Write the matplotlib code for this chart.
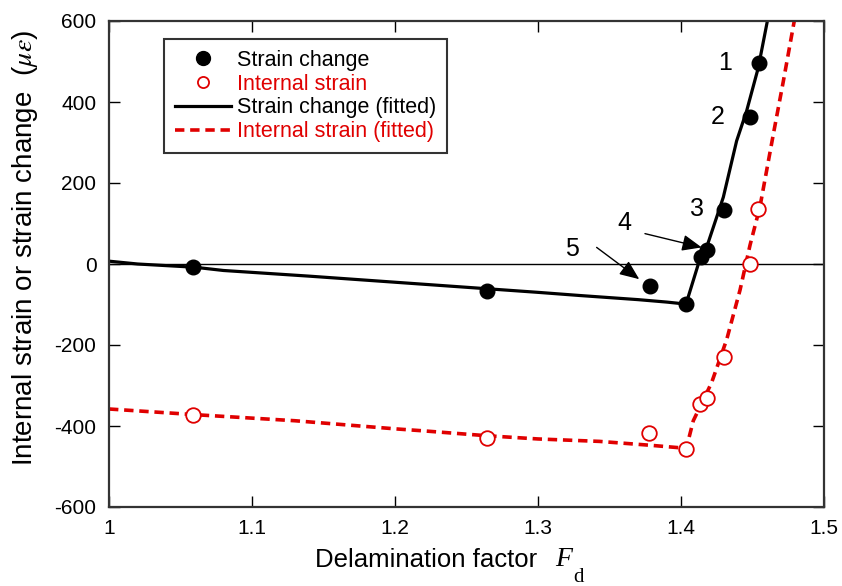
import matplotlib
matplotlib.use("Agg")
import matplotlib.pyplot as plt
from matplotlib.lines import Line2D

plt.rcParams['font.family'] = ['Liberation Sans', 'DejaVu Sans']
plt.rcParams['axes.unicode_minus'] = False
plt.rcParams['mathtext.fontset'] = 'stix'

# measured data
sc_x = [1.059, 1.264, 1.378, 1.4035, 1.4137, 1.418, 1.430, 1.4485, 1.4543]
sc_y = [-8, -66, -54, -99, 18, 34, 134, 363, 496]
is_x = [1.059, 1.264, 1.3776, 1.4033, 1.4133, 1.418, 1.430, 1.448, 1.454]
is_y = [-372, -430, -417, -458, -346, -331, -230, 0, 135]

# fitted curves
scf_x = [1.0, 1.02, 1.06, 1.08, 1.14, 1.18, 1.20, 1.26, 1.30, 1.33, 1.37, 1.39, 1.4035,
         1.4137, 1.418, 1.4296, 1.4389, 1.4459, 1.454, 1.4604]
scf_y = [7, 0, -8, -16, -30, -40, -45, -60, -70, -78, -88, -94, -99,
         18, 42, 165, 304, 378, 484, 600]
isf_x = [1.0, 1.06, 1.13, 1.20, 1.22, 1.264, 1.30, 1.343, 1.38, 1.40, 1.4035,
         1.4086, 1.4214, 1.432, 1.4413, 1.4483, 1.4552, 1.4646, 1.4716, 1.4792]
isf_y = [-358, -372, -387, -407, -412, -424, -432, -438, -448, -454, -458,
         -387, -293, -186, -64, 47, 141, 321, 452, 600]

labels = ['1', '2', '3', '4', '5']
label_x = [1.4305, 1.4254, 1.411, 1.3604, 1.3236]
label_y = [496, 363, 135, 101, 38]

xticks = [1, 1.1, 1.2, 1.3, 1.4, 1.5]
xticklabels = ['1', '1.1', '1.2', '1.3', '1.4', '1.5']
yticks = [-600, -400, -200, 0, 200, 400, 600]

RED = '#e00000'

fig = plt.figure(figsize=(8.42, 5.86), dpi=100)
ax = fig.add_axes([109/842, 1-507/586, (824-109)/842, (507-21)/586])

ax.axhline(0, color='black', lw=1.0, zorder=1)
ax.plot(scf_x, scf_y, color='black', lw=2.3, zorder=2, solid_capstyle='butt')
ax.plot(isf_x, isf_y, color=RED, lw=2.6, ls=(0, (2.6, 1.6)), zorder=2)
ax.plot(sc_x, sc_y, 'o', color='black', ms=10.5, zorder=3)
ax.plot(is_x, is_y, 'o', mfc='white', mec=RED, mew=1.3, ms=10.5, zorder=3)

for t, x, y in zip(labels, label_x, label_y):
    ax.text(x, y, t, fontsize=18, ha='center', va='center')

arrow = dict(arrowstyle='-|>,head_length=1.2,head_width=0.5', color='black', lw=1.0,
             shrinkA=0, shrinkB=0)
ax.annotate('', xy=(1.4145, 41), xytext=(1.3748, 75), arrowprops=arrow)
ax.annotate('', xy=(1.3708, -37.5), xytext=(1.341, 41), arrowprops=arrow)

ax.set_xlim(1, 1.5)
ax.set_ylim(-600, 600)
ax.set_xticks(xticks)
ax.set_xticklabels(xticklabels)
ax.set_yticks(yticks)
ax.tick_params(direction='in', length=8, width=1.0, labelsize=15, pad=9,
               top=True, right=True)
for s in ax.spines.values():
    s.set_linewidth(1.6)
    s.set_color('#333333')

fig.text(25/842, 1-248/586, r'Internal strain or strain change  ($\mu\varepsilon$)',
         fontsize=20, rotation=90, ha='center', va='center')
fig.text(426/842, 1-560/586, 'Delamination factor', fontsize=18.5, ha='center', va='center')
fig.text(564/842, 1-559/586, 'F', fontsize=20, family='Liberation Serif', style='italic',
         ha='center', va='center')
fig.text(578/842, 1-577/586, 'd', fontsize=15, family='Liberation Serif',
         ha='center', va='center')

handles = [
    Line2D([], [], ls='none', marker='o', color='black', ms=10),
    Line2D([], [], ls='none', marker='o', mfc='white', mec=RED, mew=1.3, ms=8),
    Line2D([], [], color='black', lw=2.3),
    Line2D([], [], color=RED, lw=2.6, ls=(0, (2.6, 1.6))),
]
names = ['Strain change', 'Internal strain', 'Strain change (fitted)', 'Internal strain (fitted)']
leg = ax.legend(handles, names, loc='upper left', bbox_to_anchor=(164/842, 1-39/586),
                bbox_transform=fig.transFigure, fontsize=15.5, frameon=True, fancybox=False,
                edgecolor='black', handlelength=2.6, handletextpad=0.3, labelspacing=0.13,
                borderpad=0.5, borderaxespad=0)
leg.get_frame().set_linewidth(1.5)
for txt, c in zip(leg.get_texts(), ['black', RED, 'black', RED]):
    txt.set_color(c)

fig.savefig('out.png', dpi=100)
